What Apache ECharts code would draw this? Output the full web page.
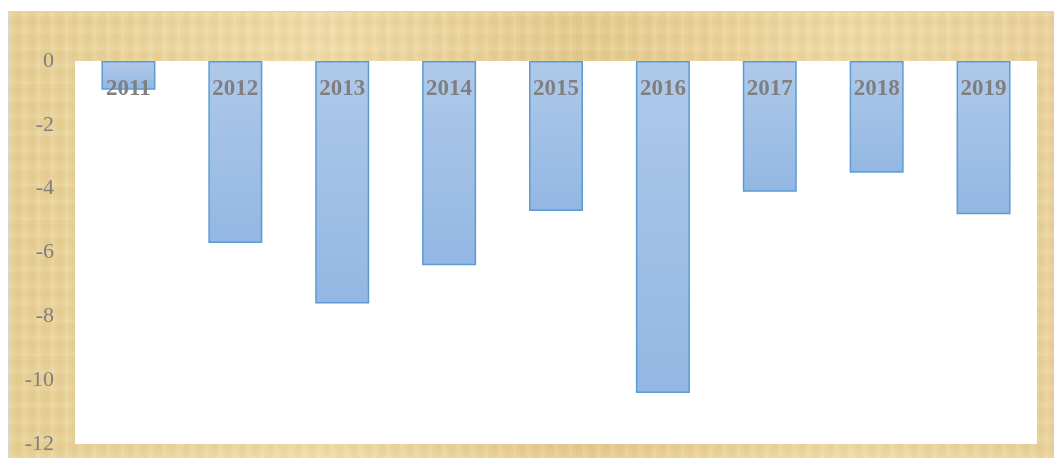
<!DOCTYPE html>
<html>
<head>
<meta charset="utf-8">
<script src="https://cdn.jsdelivr.net/npm/echarts@6/dist/echarts.min.js"></script>
<style>
  html, body { margin: 0; padding: 0; background: #fff; }
  .frame {
    position: absolute;
    left: 8px;
    top: 11px;
    width: 1046px;
    height: 447px;
    border-left: 1px solid #d6d6d6;
    border-top: 1px solid #d6d6d6;
    box-sizing: border-box;
    background-color: #ead49f;
    background-image:
      repeating-linear-gradient(90deg, rgba(255,245,210,0.18) 0px, rgba(255,245,210,0) 5px, rgba(190,150,80,0.07) 9px, rgba(255,245,210,0) 14px),
      repeating-linear-gradient(0deg, rgba(255,250,225,0.12) 0px, rgba(255,250,225,0) 6px, rgba(180,140,70,0.05) 11px, rgba(255,250,225,0) 17px),
      linear-gradient(90deg, #e7cf96 0%, #efdba8 30%, #e4ca8f 55%, #eed9a4 80%, #e9d19b 100%);
  }
  #chart { width: 100%; height: 100%; }
</style>
</head>
<body>
<div class="frame"><div id="chart"></div></div>
<script>
const years = ['2011', '2012', '2013', '2014', '2015', '2016', '2017', '2018', '2019']
const values = [-0.9, -5.7, -7.6, -6.4, -4.7, -10.4, -4.1, -3.5, -4.8]
const yTicks = [0, -2, -4, -6, -8, -10, -12]

const chart = echarts.init(document.getElementById('chart'))

const option = {
  animation: false,
  grid: {
    left: 66,
    top: 49,
    right: 17,
    bottom: 14,
    show: true,
    backgroundColor: '#ffffff',
    borderWidth: 0
  },
  xAxis: {
    type: 'category',
    data: years,
    position: 'top',
    axisLine: { show: false },
    axisTick: { show: false },
    axisLabel: {
      inside: true,
      margin: 17,
      color: '#7f7f7f',
      fontFamily: '"Liberation Serif", "DejaVu Serif", serif',
      fontWeight: 'bold',
      fontSize: 23
    },
    z: 10
  },
  yAxis: {
    type: 'value',
    min: yTicks[yTicks.length - 1],
    max: yTicks[0],
    interval: 2,
    splitLine: { show: false },
    axisLine: { show: false },
    axisTick: { show: false },
    axisLabel: {
      margin: 21,
      color: '#7f7f7f',
      fontFamily: '"Liberation Serif", "DejaVu Serif", serif',
      fontSize: 22
    }
  },
  series: [
    {
      type: 'bar',
      data: values,
      barWidth: 54,
      itemStyle: {
        color: new echarts.graphic.LinearGradient(0, 0, 0, 1, [
          { offset: 0, color: '#afc9e9' },
          { offset: 1, color: '#93b7e3' }
        ]),
        borderColor: '#5b9bd5',
        borderWidth: 1.5
      }
    }
  ]
}

chart.setOption(option)
window.addEventListener('resize', () => chart.resize())
</script>
</body>
</html>
